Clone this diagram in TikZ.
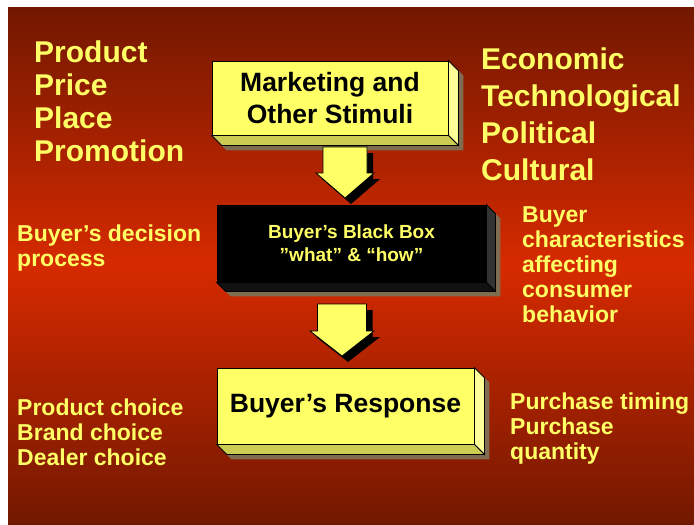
\documentclass[tikz,border=0pt]{standalone}
\usepackage{fontspec}
\setmainfont{Liberation Sans}
\pgfdeclarelayer{back}
\pgfdeclarelayer{bg}
\pgfsetlayers{back,bg,main}
\definecolor{bgdark}{HTML}{721800}
\definecolor{bgmid}{HTML}{D62A00}
\definecolor{txtyellow}{HTML}{FFFF66}
\definecolor{frontyellow}{HTML}{FFFF66}
\definecolor{sideyellow}{HTML}{FFFF99}
\definecolor{bottomyellow}{HTML}{CCCC52}
\definecolor{slabshadow}{HTML}{806C50}
\definecolor{sidedark}{HTML}{333333}
\definecolor{bottomdark}{HTML}{111111}
\newcommand\slabfaces[4]{%
  \begin{pgfonlayer}{bg}
    \fill[slabshadow] ([shift={(5,5)}]#1.north west) -- ([shift={(5,5)}]#1.north east)
      -- ([shift={(#2+5,#2+5)}]#1.north east) -- ([shift={(#2+5,#2+5)}]#1.south east)
      -- ([shift={(#2+5,#2+5)}]#1.south west) -- ([shift={(5,5)}]#1.south west) -- cycle;
    \filldraw[facestyle, fill=#3] (#1.north east) -- ([shift={(#2,#2)}]#1.north east)
      -- ([shift={(#2,#2)}]#1.south east) -- (#1.south east) -- cycle;
    \filldraw[facestyle, fill=#4] (#1.south west) -- (#1.south east)
      -- ([shift={(#2,#2)}]#1.south east) -- ([shift={(#2,#2)}]#1.south west) -- cycle;
  \end{pgfonlayer}}
\tikzset{
  facestyle/.style={draw=black, line width=0.8pt, line join=miter},
  slabfront/.style={draw=black, line width=0.8pt, inner sep=0pt, align=center},
  bigtxt/.style={text=txtyellow, inner sep=0pt, anchor=base west, align=left,
    font=\bfseries\fontsize{30}{33}\selectfont},
  midtxt/.style={text=txtyellow, inner sep=0pt, anchor=base west, align=left,
    font=\bfseries\fontsize{23}{25}\selectfont},
  pics/blockarrow/.style n args={4}{code={
    \fill[black] (-#1+6,6) -- (#1+6,6) -- (#1+6,#3+6) -- (#2+6,#3+6) -- (6,#4+6)
      -- (-#2+6,#3+6) -- (-#1+6,#3+6) -- cycle;
    \filldraw[fill=frontyellow, draw=black, line width=0.8pt] (-#1,0) -- (#1,0) -- (#1,#3)
      -- (#2,#3) -- (0,#4) -- (-#2,#3) -- (-#1,#3) -- cycle;
  }}
}
\begin{document}
\begin{tikzpicture}[x=1pt,y=-1pt]
\useasboundingbox (0,0) rectangle (694,525);
\begin{pgfonlayer}{back}
\fill[white] (0,0) rectangle (694,525);
\shade[top color=bgdark, bottom color=bgdark, middle color=bgmid] (8,7) rectangle (694,525);
\end{pgfonlayer}

% boxes
\node[slabfront, fill=frontyellow, minimum width=236, minimum height=74,
  font=\bfseries\fontsize{26.5}{32}\selectfont] (stim) at (330,98) {Marketing and\\Other Stimuli};
\slabfaces{stim}{10}{sideyellow}{bottomyellow}

\node[slabfront, fill=black, text=txtyellow, minimum width=269, minimum height=77,
  font=\bfseries\fontsize{19}{23}\selectfont] (bbox) at (351.5,243.5) {Buyer’s Black Box\\”what” \& “how”};
\slabfaces{bbox}{9}{sidedark}{bottomdark}

\node[slabfront, fill=frontyellow, minimum width=257, minimum height=76,
  font=\bfseries\fontsize{26.5}{32}\selectfont] (resp) at (345.5,406) {Buyer’s Response};
\slabfaces{resp}{10}{sideyellow}{bottomyellow}

% arrows
\coordinate (arr1) at (345,147);
\coordinate (arr2) at (342,304);
\pic at (arr1) {blockarrow={22}{29}{26}{51}};
\pic at (arr2) {blockarrow={24.5}{32}{27}{52}};

% labels (anchored at the baseline of the last line)
\node[bigtxt] (mix) at (34,161) {Product\\Price\\Place\\Promotion};
\node[bigtxt, font=\bfseries\fontsize{30}{37}\selectfont] (env) at (481,180) {Economic\\Technological\\Political\\Cultural};
\node[midtxt] (dec) at (17,266) {Buyer’s decision\\process};
\node[midtxt] (char) at (522,322) {Buyer\\characteristics\\affecting\\consumer\\behavior};
\node[midtxt] (choice) at (17,465) {Product choice\\Brand choice\\Dealer choice};
\node[midtxt] (purch) at (510,459) {Purchase timing\\Purchase\\quantity};
\end{tikzpicture}
\end{document}
